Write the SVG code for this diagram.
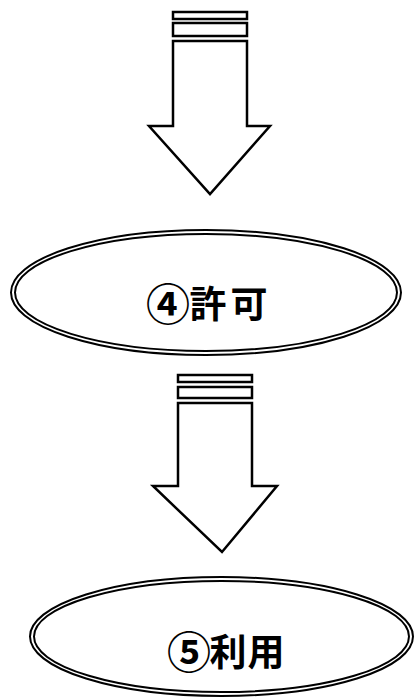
<svg xmlns="http://www.w3.org/2000/svg" width="415" height="700" viewBox="0 0 415 700">
<style>
.ln{fill:#fff;stroke:#000;stroke-width:2.5;stroke-linejoin:miter}
.el{fill:none;stroke:#000;stroke-width:2}
.lbl{font-family:"Noto Sans CJK JP","Noto Sans CJK SC",sans-serif;font-weight:bold;font-size:37px;fill:#000;text-anchor:middle}
.num{font-size:44px}
</style>
<rect width="415" height="700" fill="#fff"/>
<g id="connectors">
<g id="arrow1">
<rect class="ln" x="173" y="12" width="74" height="7"/>
<rect class="ln" x="173" y="23" width="74" height="13"/>
<polygon class="ln" points="173,41 247,41 247,126 270,126 210,194 149,126 173,126"/>
</g>
<g id="arrow2">
<rect class="ln" x="178" y="375" width="74" height="7"/>
<rect class="ln" x="178" y="387" width="74" height="11"/>
<polygon class="ln" points="178,403 252,403 252,486 277,486 222,552 153,486 178,486"/>
</g>
</g>
<g id="node4">
<ellipse class="el" cx="206" cy="292.5" rx="195" ry="62.5"/>
<ellipse class="el" cx="206" cy="292.5" rx="191" ry="58.5"/>
<text class="lbl" y="318"><tspan class="num" x="168" y="321">④</tspan><tspan x="208" y="318">許</tspan><tspan x="249">可</tspan></text>
</g>
<g id="node5">
<ellipse class="el" cx="221.5" cy="636.5" rx="191.5" ry="59.5"/>
<ellipse class="el" cx="221.5" cy="636.5" rx="187.5" ry="55.5"/>
<text class="lbl" y="666"><tspan class="num" x="189" y="669">⑤</tspan><tspan x="228" y="666">利</tspan><tspan x="266">用</tspan></text>
</g>
</svg>
